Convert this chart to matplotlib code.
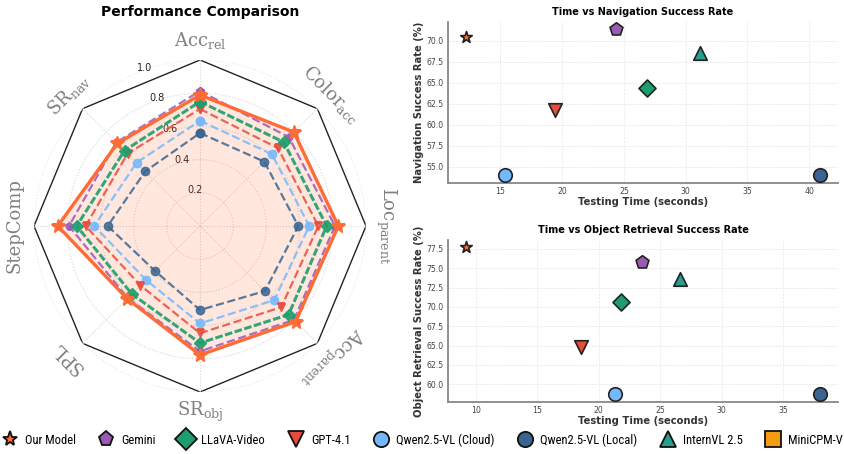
import numpy as np
import matplotlib
matplotlib.use("Agg")
import matplotlib.pyplot as plt
from matplotlib.lines import Line2D
from matplotlib import font_manager

# ---------------- data ----------------
categories = [r"Acc$_{\mathrm{rel}}$", r"Color$_{\mathrm{acc}}$", r"Loc$_{\mathrm{parent}}$",
              r"Acc$_{\mathrm{parent}}$", r"SR$_{\mathrm{obj}}$", "SPL", "StepComp", r"SR$_{\mathrm{nav}}$"]

radar_models = ["Our Model", "Gemini", "LLaVA-Video", "GPT-4.1", "Qwen2.5-VL (Cloud)", "Qwen2.5-VL (Local)"]
radar_ours = [0.789, 0.800, 0.833, 0.815, 0.777, 0.620, 0.857, 0.704]
radar_gemini = [0.813, 0.757, 0.813, 0.800, 0.755, 0.615, 0.789, 0.713]
radar_llava = [0.749, 0.714, 0.763, 0.755, 0.705, 0.580, 0.743, 0.643]
radar_gpt = [0.705, 0.664, 0.713, 0.692, 0.646, 0.507, 0.689, 0.617]
radar_cloud = [0.634, 0.612, 0.658, 0.632, 0.587, 0.460, 0.637, 0.540]
radar_local = [0.560, 0.548, 0.592, 0.554, 0.506, 0.383, 0.556, 0.466]
radar_values = [radar_ours, radar_gemini, radar_llava, radar_gpt, radar_cloud, radar_local]

rticks = [0.2, 0.4, 0.6, 0.8, 1.0]
rtick_labels = ["0.2", "0.4", "0.6", "0.8", "1.0"]

scatter_models = ["Our Model", "Gemini", "LLaVA-Video", "GPT-4.1",
                  "Qwen2.5-VL (Cloud)", "Qwen2.5-VL (Local)", "InternVL 2.5"]
nav_time = [12.2, 24.4, 26.9, 19.4, 15.4, 40.9, 31.2]
nav_sr = [70.4, 71.4, 64.4, 61.8, 54.0, 54.0, 68.6]
obj_time = [9.2, 23.5, 21.8, 18.6, 21.3, 38.0, 26.6]
obj_sr = [77.7, 75.8, 70.7, 64.8, 58.7, 58.7, 73.6]

legend_models = ["Our Model", "Gemini", "LLaVA-Video", "GPT-4.1", "Qwen2.5-VL (Cloud)",
                 "Qwen2.5-VL (Local)", "InternVL 2.5", "MiniCPM-V"]

# ---------------- styles ----------------
colors = {"Our Model": "#FF6B35", "Gemini": "#9B59B6", "LLaVA-Video": "#1E9E6E",
          "GPT-4.1": "#E74C3C", "Qwen2.5-VL (Cloud)": "#74B9FF",
          "Qwen2.5-VL (Local)": "#3B6591", "InternVL 2.5": "#26A08C", "MiniCPM-V": "#F39C12"}
markers = {"Our Model": "*", "Gemini": "p", "LLaVA-Video": "D", "GPT-4.1": "v",
           "Qwen2.5-VL (Cloud)": "o", "Qwen2.5-VL (Local)": "o", "InternVL 2.5": "^", "MiniCPM-V": "s"}
ssize = {"Our Model": 75, "Gemini": 95, "LLaVA-Video": 75, "GPT-4.1": 95,
         "Qwen2.5-VL (Cloud)": 95, "Qwen2.5-VL (Local)": 95, "InternVL 2.5": 95}

plt.rcParams["mathtext.fontset"] = "dejavuserif"

# pick a narrow sans for the legend if one is installed
available = {f.name for f in font_manager.fontManager.ttflist}
narrow = None
for cand in ["Liberation Sans Narrow", "DejaVu Sans Condensed", "Roboto Condensed", "Open Sans Condensed"]:
    if cand in available:
        narrow = cand
        break
legend_family = [narrow, "DejaVu Sans"] if narrow else ["DejaVu Sans"]
legend_size = 9.0 if narrow else 7.6

W, H = 845, 454
fig = plt.figure(figsize=(W / 100, H / 100), dpi=100)

# ---------------- radar ----------------
cx, cy, R = 200, 226, 166
ax = fig.add_axes([(cx - R) / W, 1 - (cy + R) / H, 2 * R / W, 2 * R / H], projection="polar")
ax.set_theta_offset(np.pi / 2)
ax.set_theta_direction(-1)
N = len(categories)
angles = np.linspace(0, 2 * np.pi, N, endpoint=False)
ang_c = np.concatenate([angles, angles[:1]])

ax.set_ylim(0, 1)
ax.spines["polar"].set_visible(False)
ax.set_xticks(angles)
ax.set_xticklabels([])
ax.set_yticks(rticks)
ax.set_yticklabels(rtick_labels, fontsize=7, color="#222222")
ax.set_rlabel_position(337.5)
ax.grid(True, color="#d5d5d5", linestyle=":", linewidth=0.8)
ax.plot(ang_c, [1.0] * (N + 1), color="#222222", linewidth=1.0, zorder=1)

for name, vals in zip(radar_models[::-1], radar_values[::-1]):
    v = np.concatenate([vals, vals[:1]])
    c = colors[name]
    if name == "Our Model":
        ax.fill(ang_c, v, color=c, alpha=0.16, zorder=2)
        ax.plot(ang_c, v, color=c, linewidth=2.4, marker="*", markersize=10, zorder=10)
    elif name == "LLaVA-Video":
        ax.plot(ang_c, v, color=c, linewidth=2.2, linestyle=(0, (2.5, 0.8)), marker=markers[name],
                markersize=6, alpha=0.9, zorder=5)
    else:
        ax.plot(ang_c, v, color=c, linewidth=1.6, linestyle="--", marker=markers[name],
                markersize=6, alpha=0.85, zorder=4)

for a, lab in zip(angles, categories):
    deg = np.degrees(a)
    rot = 0 if abs(deg - 180) < 1e-6 else -deg
    ax.text(a, 1.12, lab, fontsize=13, color="#808080", family="DejaVu Serif",
            ha="center", va="center", rotation=rot, rotation_mode="anchor", clip_on=False)

fig.text(cx / W, 1 - 12 / H, "Performance Comparison", fontsize=10, fontweight="bold",
         ha="center", va="center")

# ---------------- scatter plots ----------------
def scatter_panel(rect, xs, ys, title, ylabel):
    a = fig.add_axes(rect)
    for name, x, y in zip(scatter_models, xs, ys):
        a.scatter(x, y, s=ssize[name], marker=markers[name], color=colors[name],
                  edgecolor="#222222", linewidth=1.2, zorder=3)
    a.set_title(title, fontsize=7, fontweight="bold", pad=5)
    a.set_xlabel("Testing Time (seconds)", fontsize=7.2, fontweight="bold", labelpad=1, color="#333333")
    a.set_ylabel(ylabel, fontsize=7.2, fontweight="bold", labelpad=2, color="#333333")
    a.tick_params(labelsize=5.6, colors="#444444", length=0, pad=3)
    a.grid(True, color="#e6e6e6", linestyle="--", linewidth=0.5)
    a.set_axisbelow(True)
    for s in ["top", "right"]:
        a.spines[s].set_visible(False)
    for s in ["left", "bottom"]:
        a.spines[s].set_color("#888888")
        a.spines[s].set_linewidth(1.3)
    return a

scatter_panel([448 / W, 1 - 182.7 / H, 390 / W, 161 / H], nav_time, nav_sr,
              "Time vs Navigation Success Rate", "Navigation Success Rate (%)")
scatter_panel([448 / W, 1 - 401.7 / H, 390 / W, 161.7 / H], obj_time, obj_sr,
              "Time vs Object Retrieval Success Rate", "Object Retrieval Success Rate (%)")

# ---------------- legend ----------------
handles = [Line2D([], [], linestyle="none", marker=markers[m], markersize=11,
                  markerfacecolor=colors[m], markeredgecolor="#111111", markeredgewidth=1.3)
           for m in legend_models]
fig.legend(handles, legend_models, loc="center left", bbox_to_anchor=(0.004, 1 - 440 / H),
           ncol=len(legend_models), frameon=False, borderpad=0, borderaxespad=0,
           handletextpad=0.7, columnspacing=1.95, handlelength=1.0,
           prop={"family": legend_family, "size": legend_size})

fig.savefig("out.png", dpi=100)
